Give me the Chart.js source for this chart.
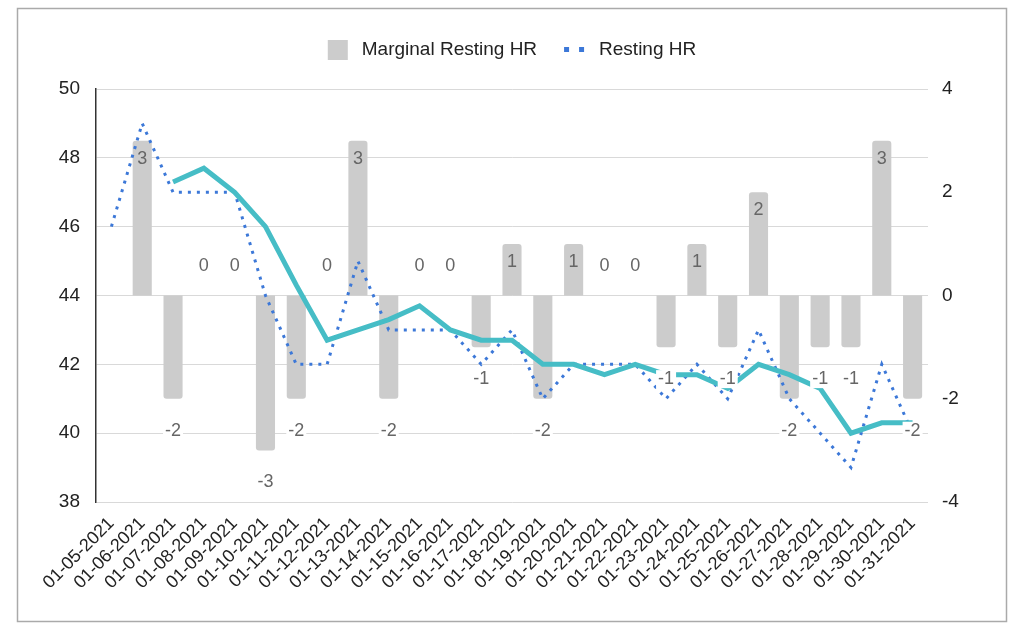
<!DOCTYPE html>
<html lang="en">
<head>
<meta charset="utf-8">
<title>Resting HR</title>
<script src="https://cdn.jsdelivr.net/npm/chart.js@4.4.0/dist/chart.umd.min.js"></script>
<style>
  html, body { margin: 0; padding: 0; background: #fff; }
  #hr { display: block; }
</style>
</head>
<body>
<canvas id="hr" width="1024" height="636"></canvas>
<script>
var days = ['01-05-2021','01-06-2021','01-07-2021','01-08-2021','01-09-2021','01-10-2021','01-11-2021',
            '01-12-2021','01-13-2021','01-14-2021','01-15-2021','01-16-2021','01-17-2021','01-18-2021',
            '01-19-2021','01-20-2021','01-21-2021','01-22-2021','01-23-2021','01-24-2021','01-25-2021',
            '01-26-2021','01-27-2021','01-28-2021','01-29-2021','01-30-2021','01-31-2021'];
var marginalHR = [null, 3, -2, 0, 0, -3, -2, 0, 3, -2, 0, 0, -1, 1, -2, 1, 0, 0, -1, 1, -1, 2, -2, -1, -1, 3, -2];
var restingHR  = [46, 49, 47, 47, 47, 44, 42, 42, 45, 43, 43, 43, 42, 43, 41, 42, 42, 42, 41, 42, 41, 43, 41, 40, 39, 42, 40];
var avgHR      = [null, null, 47.3, 47.7, 47, 46, 44.3, 42.7, 43, 43.3, 43.7, 43, 42.7, 42.7, 42, 42, 41.7, 42,
                  41.7, 41.7, 41.3, 42, 41.7, 41.3, 40, 40.3, 40.3];
var leftTicks  = [38, 40, 42, 44, 46, 48, 50];
var rightTicks = [-4, -2, 0, 2, 4];

var FONT = '"Liberation Sans", Arial, sans-serif';

// white page + grey frame
var frame = {
  id: 'frame',
  beforeDraw: function(chart) {
    var c = chart.ctx;
    c.save();
    c.fillStyle = '#fff';
    c.fillRect(0, 0, chart.width, chart.height);
    c.strokeStyle = '#aaaaaa';
    c.lineWidth = 1.5;
    c.strokeRect(17.5, 8.5, 989, 613);
    c.restore();
  }
};

// legend like the sheets one (teal average has no entry)
var topLegend = {
  id: 'topLegend',
  afterDraw: function(chart) {
    var c = chart.ctx;
    c.save();
    c.font = '19px ' + FONT;
    c.textBaseline = 'middle';
    var t1 = 'Marginal Resting HR', t2 = 'Resting HR';
    var w1 = 20 + 14 + c.measureText(t1).width;
    var w2 = 21 + 14 + c.measureText(t2).width;
    var x = chart.width / 2 - (w1 + 27 + w2) / 2;
    var y = 50;
    c.fillStyle = '#cccccc';
    c.fillRect(x, y - 10, 20, 20);
    c.fillStyle = '#222';
    c.fillText(t1, x + 34, y);
    x += w1 + 27;
    c.fillStyle = '#3c78d8';
    c.fillRect(x, y - 3, 5, 5);
    c.fillRect(x + 15, y - 3, 5, 5);
    c.fillStyle = '#222';
    c.fillText(t2, x + 35, y);
    c.restore();
  }
};

// value labels for the bars
var barLabels = {
  id: 'barLabels',
  afterDatasetsDraw: function(chart) {
    var meta = chart.getDatasetMeta(2);
    var c = chart.ctx;
    c.save();
    c.font = '18px ' + FONT;
    c.textAlign = 'center';
    c.textBaseline = 'middle';
    meta.data.forEach(function(bar, i) {
      var v = marginalHR[i];
      if (v === null) return;
      var y;
      if (v > 0) y = bar.y + 18;
      else if (v < 0) y = bar.y + 32;
      else y = bar.base - 29;
      var t = String(v);
      if (v <= 0) {
        var w = c.measureText(t).width;
        c.fillStyle = '#fff';
        c.fillRect(bar.x - w / 2 - 2, y - 9, w + 4, 18);
      }
      c.fillStyle = '#666';
      c.fillText(t, bar.x, y);
    });
    c.restore();
  }
};

var ctx = document.getElementById('hr').getContext('2d');
var hrChart = new Chart(ctx, {
  type: 'bar',
  data: {
    labels: days,
    datasets: [
      {
        type: 'line', label: '3-day average', data: avgHR, yAxisID: 'y',
        borderColor: '#46bdc6', borderWidth: 5, pointRadius: 0, tension: 0, order: 1
      },
      {
        type: 'line', label: 'Resting HR', data: restingHR, yAxisID: 'y',
        borderColor: '#3c78d8', borderWidth: 3, borderDash: [3, 6], pointRadius: 0, tension: 0, order: 2
      },
      {
        type: 'bar', label: 'Marginal Resting HR', data: marginalHR, yAxisID: 'y1',
        backgroundColor: '#cccccc', borderRadius: 3, barPercentage: 0.62, categoryPercentage: 1, order: 3
      }
    ]
  },
  options: {
    responsive: false,
    animation: false,
    layout: { padding: { top: 89, left: 0, right: 0, bottom: 0 } },
    plugins: { legend: { display: false }, tooltip: { enabled: false } },
    scales: {
      x: {
        offset: true,
        grid: { display: false, drawTicks: false },
        border: { display: false },
        ticks: { autoSkip: false, maxRotation: 45, minRotation: 45, color: '#222', font: { family: FONT, size: 18 }, padding: 11 },
        afterFit: function(s) { s.height = 134; }
      },
      y: {
        position: 'left',
        min: leftTicks[0], max: leftTicks[leftTicks.length - 1],
        ticks: { stepSize: 2, color: '#222', font: { family: FONT, size: 19 }, padding: 16 },
        grid: { color: '#d9d9d9', drawTicks: false },
        border: { display: true, color: '#333', width: 1.5 },
        afterFit: function(s) { s.width = 96; }
      },
      y1: {
        position: 'right',
        min: rightTicks[0], max: rightTicks[rightTicks.length - 1],
        ticks: { stepSize: 2, color: '#222', font: { family: FONT, size: 19 }, padding: 14 },
        grid: { display: false, drawTicks: false },
        border: { display: false },
        afterFit: function(s) { s.width = 96; }
      }
    }
  },
  plugins: [frame, topLegend, barLabels]
});
</script>
</body>
</html>
